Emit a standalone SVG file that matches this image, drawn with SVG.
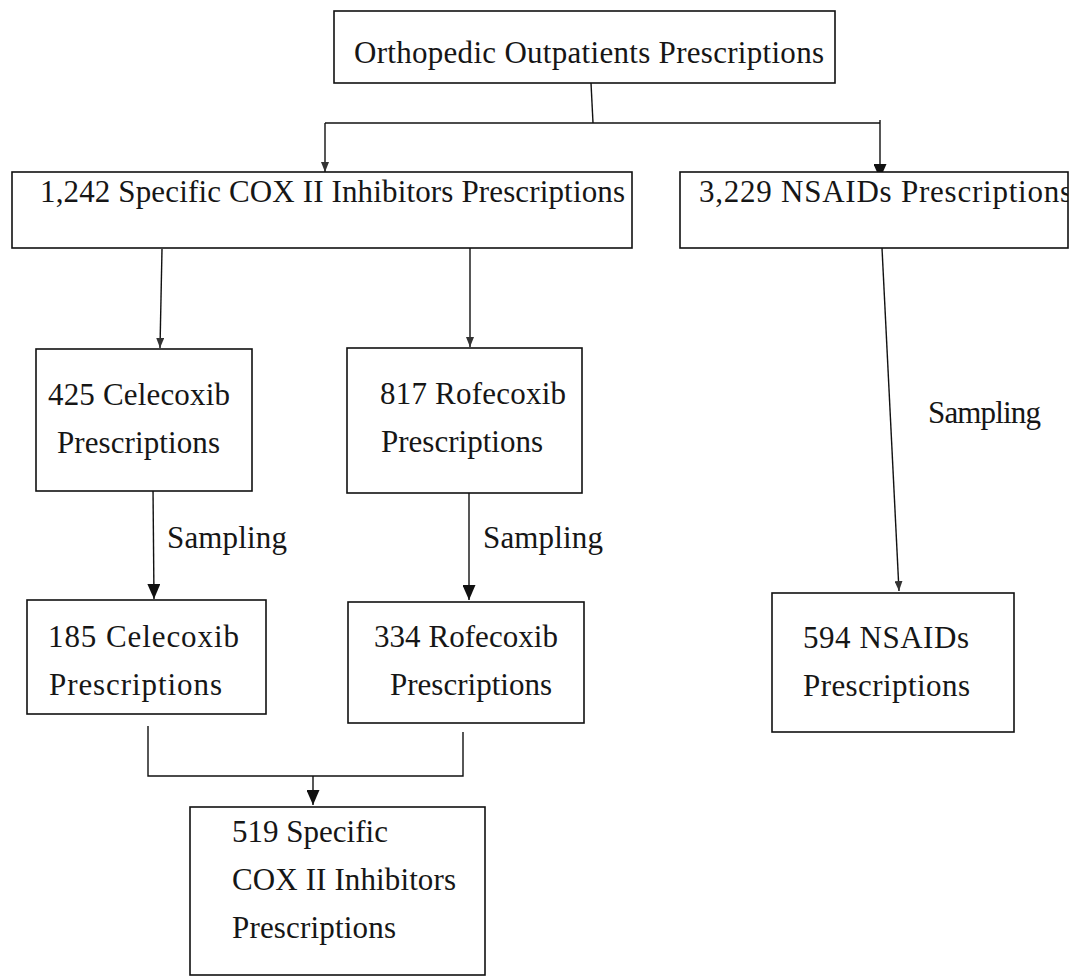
<svg xmlns="http://www.w3.org/2000/svg" width="1073" height="977" viewBox="0 0 1073 977">
<style>
  .box { fill: #fff; stroke: #111; stroke-width: 1.6; }
  .lbl { font-family: "Liberation Serif", "Times New Roman", serif; font-size: 31px; fill: #161616; }
  .ln { fill: none; stroke: #111; stroke-width: 1.4; }
</style>
<defs>
  <marker id="ah" viewBox="0 0 15 13" refX="15" refY="6.5" markerWidth="15" markerHeight="13" markerUnits="userSpaceOnUse" orient="auto">
    <path d="M0,0 L15,6.5 L0,13 z" fill="#111"/>
  </marker>
  <marker id="ahs" viewBox="0 0 10 8" refX="10" refY="4" markerWidth="10" markerHeight="8" markerUnits="userSpaceOnUse" orient="auto">
    <path d="M0,0 L10,4 L0,8 z" fill="#333"/>
  </marker>
  <clipPath id="clipNsaids"><rect x="680" y="172" width="388" height="76"/></clipPath>
</defs>
<rect width="1073" height="977" fill="#fff"/>

<g id="connectors">
  <line class="ln" x1="591" y1="83" x2="593" y2="123"/>
  <line class="ln" x1="325" y1="123" x2="880" y2="123"/>
  <line class="ln" x1="325" y1="123" x2="325" y2="172" marker-end="url(#ahs)"/>
  <line class="ln" x1="880" y1="120" x2="880" y2="179" marker-end="url(#ah)"/>
  <line class="ln" x1="162" y1="249" x2="160" y2="348" marker-end="url(#ahs)"/>
  <line class="ln" x1="470" y1="237" x2="470" y2="347" marker-end="url(#ahs)"/>
  <line class="ln" x1="153" y1="488" x2="154" y2="599" marker-end="url(#ah)"/>
  <line class="ln" x1="469" y1="493" x2="469" y2="600" marker-end="url(#ah)"/>
  <line class="ln" x1="882" y1="248" x2="899" y2="591" marker-end="url(#ahs)"/>
  <polyline class="ln" points="148,726 148,776 463,776 463,732"/>
  <line class="ln" x1="313" y1="776" x2="313" y2="805" marker-end="url(#ah)"/>
  <text class="lbl" x="928" y="423" textLength="113">Sampling</text>
  <text class="lbl" x="167" y="548" textLength="120">Sampling</text>
  <text class="lbl" x="483" y="548" textLength="120">Sampling</text>
</g>

<g id="node-orthopedic">
  <rect class="box" x="334" y="11" width="501" height="72"/>
  <text class="lbl" x="354" y="63" textLength="470">Orthopedic Outpatients Prescriptions</text>
</g>

<g id="node-cox">
  <rect class="box" x="12" y="172" width="620" height="76"/>
  <text class="lbl" x="40" y="202" textLength="585">1,242 Specific COX II Inhibitors Prescriptions</text>
</g>

<g id="node-nsaids">
  <rect class="box" x="680" y="172" width="388" height="76"/>
  <text class="lbl" x="699" y="202" textLength="373" clip-path="url(#clipNsaids)">3,229 NSAIDs Prescriptions</text>
</g>

<g id="node-celecoxib-425">
  <rect class="box" x="36" y="349" width="216" height="142"/>
  <text class="lbl" x="48" y="405" textLength="182">425 Celecoxib</text>
  <text class="lbl" x="57" y="453" textLength="163">Prescriptions</text>
</g>

<g id="node-rofecoxib-817">
  <rect class="box" x="347" y="348" width="235" height="145"/>
  <text class="lbl" x="380" y="404" textLength="186">817 Rofecoxib</text>
  <text class="lbl" x="381" y="452" textLength="162">Prescriptions</text>
</g>

<g id="node-celecoxib-185">
  <rect class="box" x="27" y="600" width="239" height="114"/>
  <text class="lbl" x="48" y="647" textLength="191">185 Celecoxib</text>
  <text class="lbl" x="49" y="695" textLength="173">Prescriptions</text>
</g>

<g id="node-rofecoxib-334">
  <rect class="box" x="348" y="602" width="236" height="121"/>
  <text class="lbl" x="374" y="647" textLength="184">334 Rofecoxib</text>
  <text class="lbl" x="390" y="695" textLength="162">Prescriptions</text>
</g>

<g id="node-nsaids-594">
  <rect class="box" x="772" y="593" width="242" height="139"/>
  <text class="lbl" x="803" y="648" textLength="166">594 NSAIDs</text>
  <text class="lbl" x="803" y="696" textLength="167">Prescriptions</text>
</g>

<g id="node-cox-519">
  <rect class="box" x="190" y="807" width="295" height="168"/>
  <text class="lbl" x="232" y="842" textLength="156">519 Specific</text>
  <text class="lbl" x="232" y="890" textLength="224">COX II Inhibitors</text>
  <text class="lbl" x="232" y="938" textLength="164">Prescriptions</text>
</g>
</svg>
